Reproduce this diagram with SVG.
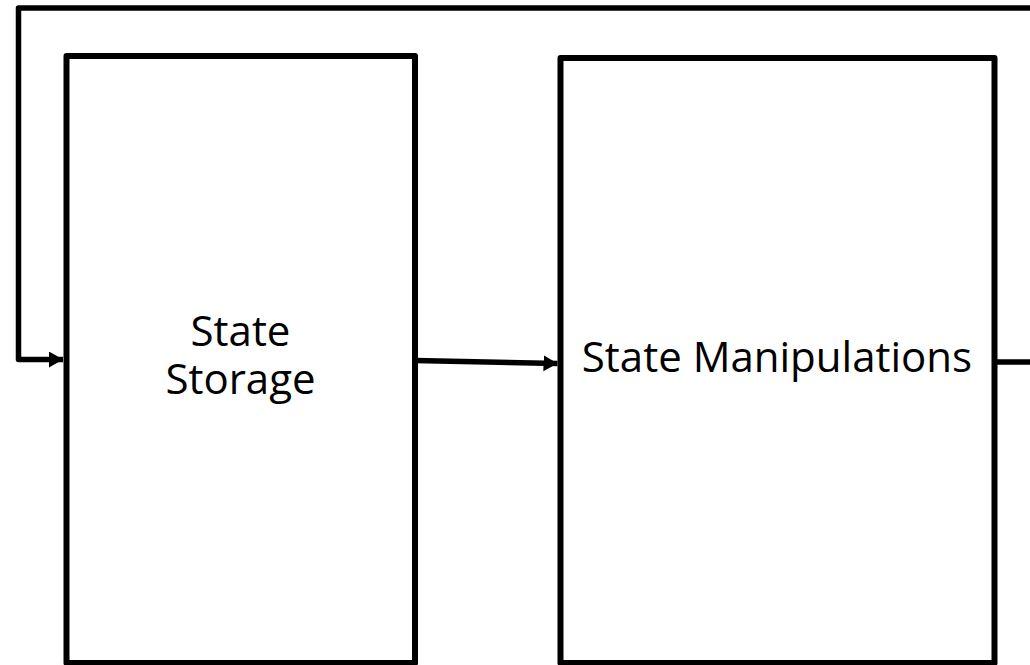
<svg xmlns="http://www.w3.org/2000/svg" width="1030" height="665" viewBox="0 0 1030 665">
  <style>
    .box { fill: #ffffff; stroke: #000000; stroke-width: 6; stroke-linejoin: round; }
    .wire { fill: none; stroke: #000000; stroke-width: 5.5; stroke-linejoin: round; }
    .label { font-family: "Open Sans", "Liberation Sans", sans-serif; font-size: 42px; fill: #000000; text-anchor: middle; }
  </style>
  <defs>
    <marker id="arrow" markerUnits="userSpaceOnUse" markerWidth="16" markerHeight="18" refX="14" refY="8" orient="auto">
      <path d="M0,0 L14,8 L0,16 Z" fill="#000000"/>
    </marker>
  </defs>
  <rect width="1030" height="665" fill="#ffffff"/>

  <g id="state-storage">
    <rect class="box" x="66.5" y="56" width="348.5" height="607"/>
    <text class="label" x="240.5" y="346">State</text>
    <text class="label" x="240.5" y="394">Storage</text>
  </g>

  <g id="state-manipulations">
    <rect class="box" x="560.5" y="58" width="434" height="605"/>
    <text class="label" x="777" y="372">State Manipulations</text>
  </g>

  <g id="connectors">
    <!-- feedback loop from the right edge back into storage -->
    <path class="wire" d="M1032,8 H18.5 V359.5 H63" marker-end="url(#arrow)"/>
    <!-- storage to manipulations -->
    <path class="wire" d="M415,360.5 L557.5,363.5" marker-end="url(#arrow)"/>
    <!-- manipulations output leaving the right edge -->
    <path class="wire" d="M994.5,362 H1032"/>
  </g>
</svg>
